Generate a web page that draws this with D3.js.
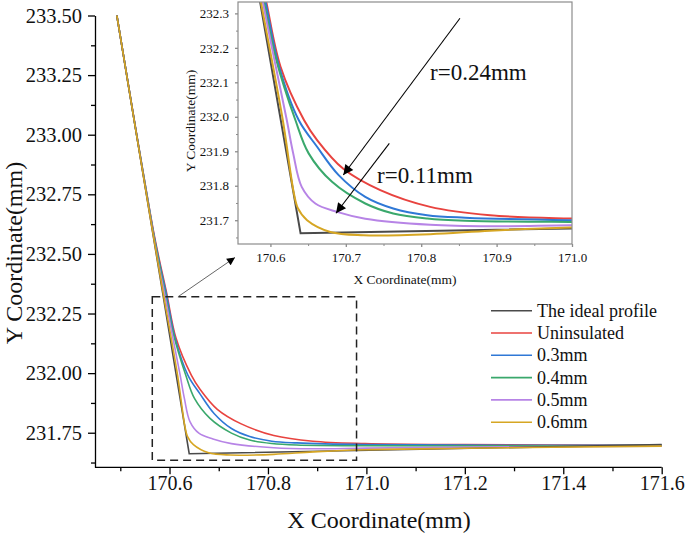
<!DOCTYPE html>
<html><head><meta charset="utf-8">
<script src="https://cdn.jsdelivr.net/npm/d3@7"></script>
<style>body{margin:0;background:#fff}svg{display:block;font-family:"Liberation Serif","Times New Roman",serif}</style>
</head><body>
<svg id="c" width="685" height="539"></svg>
<script>
// ---------- data ----------
const seriesNames = ["The ideal profile", "Uninsulated", "0.3mm", "0.4mm", "0.5mm", "0.6mm"];
const seriesColors = ["#4a4a4a", "#e8433f", "#2f78d6", "#3aa86c", "#b784e6", "#d6a623"];

const idealX = [170.493, 170.640, 171.6];
const idealY = [233.5, 231.662, 231.700];

const uninsX = [170.493, 170.567, 170.582, 170.5938, 170.6133, 170.6445, 170.6619, 170.6971, 170.7457, 170.8119, 170.8914, 170.9974, 171.2, 171.6];
const uninsY = [233.5, 232.6, 232.45, 232.34, 232.146, 231.9907, 231.9326, 231.8483, 231.7872, 231.7387, 231.7145, 231.7049, 231.700, 231.697];

const mm03X = [170.493, 170.5665, 170.581, 170.5928, 170.6111, 170.6375, 170.6619, 170.6905, 170.7258, 170.7629, 170.8079, 170.8583, 170.9974, 171.2, 171.6];
const mm03Y = [233.5, 232.6, 232.45, 232.34, 232.1488, 231.9907, 231.9131, 231.8308, 231.7677, 231.7340, 231.7145, 231.7073, 231.7000, 231.698, 231.697];

const mm04X = [170.493, 170.566, 170.580, 170.5908, 170.6078, 170.6331, 170.6507, 170.6817, 170.7258, 170.7629, 170.8079, 170.8583, 170.9974, 171.2, 171.6];
const mm04Y = [233.5, 232.6, 232.45, 232.34, 232.1651, 231.9907, 231.8939, 231.8113, 231.7485, 231.7195, 231.7049, 231.6985, 231.6951, 231.695, 231.696];

const mm05X = [170.493, 170.5655, 170.5785, 170.5893, 170.6053, 170.6217, 170.6302, 170.6415, 170.6596, 170.6883, 170.7258, 170.8119, 170.8914, 170.9974, 171.2, 171.6];
const mm05Y = [233.5, 232.6, 232.45, 232.34, 232.1651, 231.9907, 231.8939, 231.7968, 231.7485, 231.7241, 231.7044, 231.6869, 231.6826, 231.6855, 231.690, 231.694];

const mm06X = [170.493, 170.5652, 170.5868, 170.6164, 170.6311, 170.6364, 170.6486, 170.6795, 170.7236, 170.8119, 170.8914, 170.9974, 171.2, 171.6];
const mm06Y = [233.5, 232.6, 232.34, 231.9907, 231.7785, 231.7349, 231.7000, 231.6660, 231.6564, 231.6593, 231.6695, 231.6788, 231.685, 231.694];

const mainXTicks = [170.6, 170.8, 171.0, 171.2, 171.4, 171.6];
const mainXMinor = [170.5, 170.7, 170.9, 171.1, 171.3, 171.5];
const mainYTicks = [231.75, 232.00, 232.25, 232.50, 232.75, 233.00, 233.25, 233.50];
const mainYMinor = [231.625, 231.875, 232.125, 232.375, 232.625, 232.875, 233.125, 233.375];

const insetXTicks = [170.6, 170.7, 170.8, 170.9, 171.0];
const insetXMinor = [170.65, 170.75, 170.85, 170.95];
const insetYTicks = [231.7, 231.8, 231.9, 232.0, 232.1, 232.2, 232.3];
const insetYMinor = [231.65, 231.75, 231.85, 231.95, 232.05, 232.15, 232.25];

const insetXDomain = [170.557, 171.0];
const insetYDomain = [231.631, 232.333];
// zoom window marked on the main chart
const zoomBoxX = [170.565, 170.98];
const zoomBoxY = [231.635, 232.32];
// annotations (inset data coordinates): [tailX, tailY, tipX, tipY]
const arrow024 = [170.8514, 232.2858, 170.6967, 231.8312];
const arrow011 = [170.7577, 231.9231, 170.6870, 231.7201];
const label024 = [170.8117, 232.107, "r=0.24mm"];
const label011 = [170.7414, 231.808, "r=0.11mm"];
// arrow from zoom box to inset (main coordinates)
const linkArrow = [170.617, 232.32, 170.733, 232.485];

const seriesData = [[idealX, idealY], [uninsX, uninsY], [mm03X, mm03Y], [mm04X, mm04Y], [mm05X, mm05Y], [mm06X, mm06Y]]
  .map(([xs, ys]) => xs.map((x, i) => [x, ys[i]]));

// ---------- drawing ----------
const svg = d3.select("#c");
const font = "'Liberation Serif', 'Times New Roman', serif";

const defs = svg.append("defs");
defs.append("marker").attr("id", "ah").attr("viewBox", "0 0 10 10").attr("refX", 10).attr("refY", 5)
  .attr("markerWidth", 10).attr("markerHeight", 8).attr("markerUnits", "userSpaceOnUse").attr("orient", "auto")
  .append("path").attr("d", "M0,0 L10,5 L0,10 z").attr("fill", "#000");
defs.append("marker").attr("id", "ah2").attr("viewBox", "0 0 10 10").attr("refX", 10).attr("refY", 5)
  .attr("markerWidth", 14).attr("markerHeight", 10).attr("markerUnits", "userSpaceOnUse").attr("orient", "auto")
  .append("path").attr("d", "M0,0 L10,5 L0,10 z").attr("fill", "#000");

// main scales
const x = d3.scaleLinear().domain([170.4486, 171.6]).range([95, 661.7]);
const y = d3.scaleLinear().domain([231.605, 233.5]).range([467.3, 15.5]);

function styleAxis(g, size, color) {
  g.attr("font-family", null).attr("font-size", null);
  g.selectAll("path.domain").attr("stroke", color).attr("stroke-width", 1.3);
  g.selectAll(".tick line").attr("stroke", color).attr("stroke-width", 1.3);
  g.selectAll(".tick text").style("font-family", font).style("font-size", size + "px").attr("fill", "#111");
}

const gx = svg.append("g").attr("transform", `translate(0,${y.range()[0]})`)
  .call(d3.axisBottom(x).tickValues(mainXTicks).tickFormat(d3.format(".1f")).tickSize(7).tickSizeOuter(0).tickPadding(2));
styleAxis(gx, 20, "#000");
gx.select("path.domain").attr("d", `M${x.range()[0]},0H${x.range()[1]}`);
svg.append("g").attr("transform", `translate(0,${y.range()[0]})`)
  .call(d3.axisBottom(x).tickValues(mainXMinor).tickFormat("").tickSize(4).tickSizeOuter(0))
  .call(g => { g.select("path.domain").remove(); g.selectAll("line").attr("stroke", "#000").attr("stroke-width", 1.3); });

const gy = svg.append("g").attr("transform", `translate(${x.range()[0]},0)`)
  .call(d3.axisLeft(y).tickValues(mainYTicks).tickFormat(d3.format(".2f")).tickSize(7).tickSizeOuter(0).tickPadding(6));
styleAxis(gy, 20.5, "#000");
svg.append("g").attr("transform", `translate(${x.range()[0]},0)`)
  .call(d3.axisLeft(y).tickValues(mainYMinor).tickFormat("").tickSize(4).tickSizeOuter(0))
  .call(g => { g.select("path.domain").remove(); g.selectAll("line").attr("stroke", "#000").attr("stroke-width", 1.3); });

svg.append("text").attr("transform", "translate(22,253) rotate(-90)").attr("text-anchor", "middle")
  .style("font-family", font).style("font-size", "24px").attr("fill", "#111").text("Y Coordinate(mm)");
svg.append("text").attr("x", 379).attr("y", 528).attr("text-anchor", "middle")
  .style("font-family", font).style("font-size", "24px").attr("fill", "#111").text("X Coordinate(mm)");

// main lines
const lineMain = d3.line().x(d => x(d[0])).y(d => y(d[1])).curve(d3.curveCatmullRom.alpha(0.5));
const lineMainLin = d3.line().x(d => x(d[0])).y(d => y(d[1]));
const drawOrder = [1, 2, 3, 4, 0, 5];
drawOrder.forEach(i => {
  svg.append("path").attr("d", (i === 0 ? lineMainLin : lineMain)(seriesData[i]))
    .attr("fill", "none").attr("stroke", seriesColors[i]).attr("stroke-width", 1.6);
});

// zoom box
svg.append("rect").attr("x", x(zoomBoxX[0])).attr("y", y(zoomBoxY[1]))
  .attr("width", x(zoomBoxX[1]) - x(zoomBoxX[0])).attr("height", y(zoomBoxY[0]) - y(zoomBoxY[1]))
  .attr("fill", "none").attr("stroke", "#222").attr("stroke-width", 1.5).attr("stroke-dasharray", "8,5");

// link arrow
svg.append("line").attr("x1", x(linkArrow[0])).attr("y1", y(linkArrow[1]))
  .attr("x2", x(linkArrow[2])).attr("y2", y(linkArrow[3]))
  .attr("stroke", "#666").attr("stroke-width", 1).attr("marker-end", "url(#ah)");

// legend
const lg = svg.append("g");
seriesNames.forEach((n, i) => {
  const yy = 310.7 + i * 22.3;
  lg.append("line").attr("x1", 491).attr("x2", 532).attr("y1", yy).attr("y2", yy)
    .attr("stroke", seriesColors[i]).attr("stroke-width", 1.6);
  lg.append("text").attr("x", 537).attr("y", yy + 6).style("font-family", font).style("font-size", "18px")
    .attr("fill", "#111").text(n);
});

// ---------- inset ----------
const ix = d3.scaleLinear().domain(insetXDomain).range([238, 572]);
const iy = d3.scaleLinear().domain(insetYDomain).range([244, 2]);

svg.append("rect").attr("x", 238).attr("y", 2).attr("width", 334).attr("height", 242).attr("fill", "#fff");
defs.append("clipPath").attr("id", "ic").append("rect").attr("x", 238).attr("y", 2).attr("width", 334).attr("height", 242);

const ig = svg.append("g").attr("clip-path", "url(#ic)");
const lineIn = d3.line().x(d => ix(d[0])).y(d => iy(d[1])).curve(d3.curveCatmullRom.alpha(0.5));
const lineInLin = d3.line().x(d => ix(d[0])).y(d => iy(d[1]));
drawOrder.forEach(i => {
  ig.append("path").attr("d", (i === 0 ? lineInLin : lineIn)(seriesData[i]))
    .attr("fill", "none").attr("stroke", seriesColors[i]).attr("stroke-width", 2);
});

svg.append("rect").attr("x", 238).attr("y", 2).attr("width", 334).attr("height", 242)
  .attr("fill", "none").attr("stroke", "#8c8c8c").attr("stroke-width", 1.2);

const igx = svg.append("g").attr("transform", "translate(0,244)")
  .call(d3.axisBottom(ix).tickValues(insetXTicks).tickFormat(d3.format(".1f")).tickSize(3).tickSizeOuter(0).tickPadding(6));
styleAxis(igx, 13, "#8c8c8c");
igx.select("path.domain").remove();
svg.append("g").attr("transform", "translate(0,244)")
  .call(d3.axisBottom(ix).tickValues(insetXMinor).tickFormat("").tickSize(2).tickSizeOuter(0))
  .call(g => { g.select("path.domain").remove(); g.selectAll("line").attr("stroke", "#8c8c8c"); });

const igy = svg.append("g").attr("transform", "translate(238,0)")
  .call(d3.axisLeft(iy).tickValues(insetYTicks).tickFormat(d3.format(".1f")).tickSize(3).tickSizeOuter(0).tickPadding(6));
styleAxis(igy, 13, "#8c8c8c");
igy.select("path.domain").remove();
svg.append("g").attr("transform", "translate(238,0)")
  .call(d3.axisLeft(iy).tickValues(insetYMinor).tickFormat("").tickSize(2).tickSizeOuter(0))
  .call(g => { g.select("path.domain").remove(); g.selectAll("line").attr("stroke", "#8c8c8c"); });

svg.append("text").attr("transform", "translate(195,121) rotate(-90)").attr("text-anchor", "middle")
  .style("font-family", font).style("font-size", "13.5px").attr("fill", "#111").text("Y Coordinate(mm)");
svg.append("text").attr("x", 405).attr("y", 284).attr("text-anchor", "middle")
  .style("font-family", font).style("font-size", "13.5px").attr("fill", "#111").text("X Coordinate(mm)");

[arrow024, arrow011].forEach(a => {
  svg.append("line").attr("x1", ix(a[0])).attr("y1", iy(a[1])).attr("x2", ix(a[2])).attr("y2", iy(a[3]))
    .attr("stroke", "#000").attr("stroke-width", 1.1).attr("marker-end", "url(#ah2)");
});
[label024, label011].forEach(l => {
  svg.append("text").attr("x", ix(l[0])).attr("y", iy(l[1])).style("font-family", font)
    .style("font-size", "23px").attr("fill", "#111").text(l[2]);
});
</script>
</body></html>
